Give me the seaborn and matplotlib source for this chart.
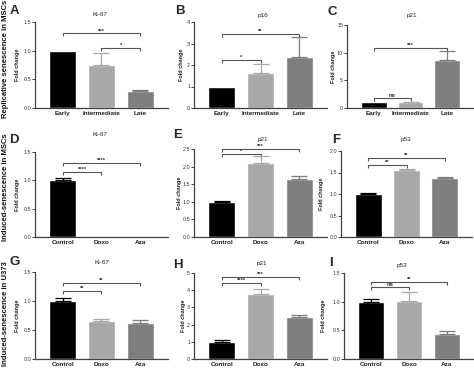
import matplotlib
matplotlib.use("Agg")
import matplotlib.pyplot as plt
import seaborn as sns
import pandas as pd

sns.set_theme(style="ticks")
plt.rcParams['font.family'] = ['Liberation Sans', 'DejaVu Sans']

# ---------------- data ----------------
rep_groups = ["Early", "Intermediate", "Late"]
ind_groups = ["Control", "Doxo", "Aza"]
bar_colors = ["#000000", "#a8a8a8", "#7e7e7e"]

A_ki67 = [1.00, 0.75, 0.30]
A_err = [0.0, 0.21, 0.015]
B_p16 = [1.00, 1.62, 2.37]
B_err = [0.0, 0.44, 0.93]
C_p21 = [1.00, 1.00, 8.6]
C_err = [0.0, 0.12, 1.7]
D_ki67 = [1.00, 0.0, 0.0]
D_err = [0.05, 0.0, 0.0]
E_p21 = [1.00, 2.10, 1.64]
E_err = [0.03, 0.20, 0.08]
F_p53 = [1.00, 1.55, 1.37]
F_err = [0.03, 0.04, 0.03]
G_ki67 = [1.00, 0.65, 0.62]
G_err = [0.06, 0.04, 0.05]
H_p21 = [1.00, 3.77, 2.47]
H_err = [0.08, 0.28, 0.10]
I_p53 = [1.00, 1.02, 0.44]
I_err = [0.05, 0.14, 0.05]

# significance brackets: (group i, group j, height, label)
A_sig = [(0, 2, 1.30, "***"), (1, 2, 1.04, "*")]
B_sig = [(0, 2, 3.45, "**"), (0, 1, 2.22, "*")]
C_sig = [(0, 2, 10.9, "***"), (0, 1, 1.8, "ns")]
D_sig = [(0, 2, 1.30, "****"), (0, 1, 1.14, "****")]
E_sig = [(0, 2, 2.50, "***"), (0, 1, 2.36, "*")]
F_sig = [(0, 2, 1.84, "**"), (0, 1, 1.68, "**")]
G_sig = [(0, 2, 1.31, "**"), (0, 1, 1.18, "**")]
H_sig = [(0, 2, 4.75, "***"), (0, 1, 4.40, "****")]
I_sig = [(0, 2, 1.34, "**"), (0, 1, 1.25, "ns")]

A_ticks = [0.0, 0.5, 1.0, 1.5]
B_ticks = [0, 1, 2, 3, 4]
C_ticks = [0, 5, 10, 15]
D_ticks = [0.0, 0.5, 1.0, 1.5]
E_ticks = [0.0, 0.5, 1.0, 1.5, 2.0, 2.5]
F_ticks = [0.0, 0.5, 1.0, 1.5, 2.0]
G_ticks = [0.0, 0.5, 1.0, 1.5]
H_ticks = [0, 1, 2, 3, 4, 5]
I_ticks = [0.0, 0.5, 1.0, 1.5]

row_labels = ["Replicative senescence in MSCs", "Induced-senescence in MSCs",
              "Induced-senescence in U373"]

# ---------------- layout ----------------
W, H = 474, 368
fig = plt.figure(figsize=(W / 100, H / 100), dpi=100)

def fx(px):
    return px / W

def fy(py):
    return 1 - py / H

panels = [
    # letter, title, groups, vals, errs, sig, ticks, fmt, rect(l,t,r,b), letter pos, title pos, ylabel x
    ("A", "Ki-67", rep_groups, A_ki67, A_err, A_sig, A_ticks, "{:.1f}", (35, 22, 168, 108), (14, 11), (100, 15), 18),
    ("B", "p16", rep_groups, B_p16, B_err, B_sig, B_ticks, "{:.0f}", (194, 22, 327, 108), (180, 11), (263, 15), 182),
    ("C", "p21", rep_groups, C_p21, C_err, C_sig, C_ticks, "{:.0f}", (347, 25, 474, 108), (332, 12), (412, 15), 334),
    ("D", "Ki-67", ind_groups, D_ki67, D_err, D_sig, D_ticks, "{:.1f}", (35, 152, 168, 237), (14, 140), (100, 135), 18),
    ("E", "p21", ind_groups, E_p21, E_err, E_sig, E_ticks, "{:.1f}", (194, 149, 327, 237), (178, 135), (263, 139), 180),
    ("F", "p53", ind_groups, F_p53, F_err, F_sig, F_ticks, "{:.1f}", (341, 151, 472, 237), (336, 140), (406, 139), 322),
    ("G", "Ki-67", ind_groups, G_ki67, G_err, G_sig, G_ticks, "{:.1f}", (35, 272, 168, 359), (15, 262), (102, 263), 18),
    ("H", "p21", ind_groups, H_p21, H_err, H_sig, H_ticks, "{:.0f}", (194, 273, 327, 359), (178, 265), (262, 264), 183),
    ("I", "p53", ind_groups, I_p53, I_err, I_sig, I_ticks, "{:.1f}", (344, 273, 474, 359), (331, 263), (402, 265), 323),
]

axis_col = "#404040"
for (letter, title, groups, vals, errs, sig, ticks, fmt, rect, lpos, tpos, ylx) in panels:
    l, t, r, b = rect
    ax = fig.add_axes([fx(l), fy(b), fx(r - l), (b - t) / H])
    df = pd.DataFrame({"group": groups, "value": vals})
    sns.barplot(data=df, x="group", y="value", hue="group", order=groups,
                hue_order=groups, palette=bar_colors, width=0.7,
                errorbar=None, legend=False, ax=ax, saturation=1)
    for i, (v, e) in enumerate(zip(vals, errs)):
        if e > 0:
            ax.errorbar(i, v, yerr=[[0], [e]], fmt="none", ecolor=bar_colors[i],
                        elinewidth=0.9, capsize=5.5, capthick=0.9, zorder=3)
    ymax = ticks[-1]
    ax.set_ylim(0, ymax)
    ax.set_xlim(-0.72, 2.72)
    ax.set_yticks(ticks)
    ax.set_yticklabels([fmt.format(v) for v in ticks], fontsize=3.9, color="#333333")
    ax.set_xticks(range(3))
    ax.set_xticklabels(groups, fontsize=4.6, fontweight="bold", color="#222222")
    ax.tick_params(axis="y", length=2, width=0.7, pad=0.8, color=axis_col)
    ax.tick_params(axis="x", length=0, pad=2)
    ax.set_xlabel("")
    ax.set_ylabel("")
    sns.despine(ax=ax)
    for s in ("left", "bottom"):
        ax.spines[s].set_linewidth(0.9)
        ax.spines[s].set_color(axis_col)
    ax.patch.set_alpha(0)
    drop = 3.0 / (b - t) * ymax
    for (i, j, y, lab) in sig:
        ax.plot([i, i, j, j], [y - drop, y, y, y - drop], color="#555555",
                lw=0.8, clip_on=False, solid_capstyle="butt")
        ax.text((i + j) / 2, y, lab, ha="center", va="bottom",
                fontsize=4.2, fontweight="bold", color="#333333", clip_on=False)
    fig.text(fx(lpos[0]), fy(lpos[1]), letter, fontsize=9.5, fontweight="bold",
             ha="center", va="center")
    fig.text(fx(tpos[0]), fy(tpos[1]), title, fontsize=4.6, ha="center",
             va="center", color="#222222")
    fig.text(fx(ylx), fy((t + b) / 2), "Fold change", rotation=90, fontsize=4.0,
             fontweight="bold", ha="center", va="center", color="#222222")

row_bottoms = [118, 241, 366]
for lab, yb in zip(row_labels, row_bottoms):
    fig.text(fx(5.5), fy(yb), lab, rotation=90, fontsize=5.5, fontweight="bold",
             ha="center", va="bottom", color="#111111")

fig.savefig("out.png", dpi=100)
